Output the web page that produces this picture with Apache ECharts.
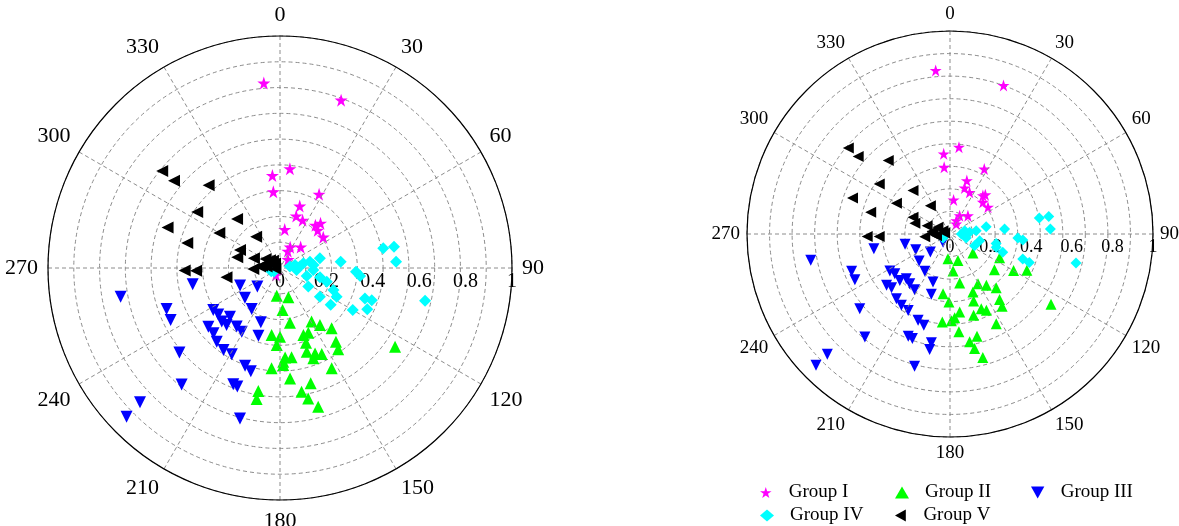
<!DOCTYPE html>
<html><head><meta charset="utf-8">
<script src="https://cdn.jsdelivr.net/npm/echarts@6/dist/echarts.min.js"></script>
<style>html,body{margin:0;padding:0;background:#fff}#c{width:1179px;height:526px}</style>
</head><body><div id="c"></div>
<script>
// ---- data: [radius, angle(deg)] ----
const leftGroupI = [[0.80,355],[0.77,20],[0.43,5.7],[0.40,355.3],[0.33,355],[0.36,27.9],[0.28,17.7],[0.235,17.3],[0.228,25.3],[0.239,39.7],[0.26,42.2],[0.23,45],[0.229,54.5],[0.167,7],[0.10,26],[0.127,44.5],[0.08,25],[0.05,44],[0.035,210]];
const leftGroupII = [[0.120,186.7],[0.181,176.5],[0.291,187.1],[0.296,180],[0.332,182.4],[0.434,184.8],[0.404,178],[0.538,190],[0.574,190.1],[0.131,164],[0.240,169.7],[0.268,149.5],[0.300,145],[0.342,139.4],[0.305,156.4],[0.306,160.7],[0.341,160.8],[0.399,142.8],[0.431,144.4],[0.379,162.3],[0.398,157.7],[0.412,154.1],[0.415,159.7],[0.386,176.7],[0.388,172.6],[0.418,178.1],[0.486,152.7],[0.478,174.8],[0.514,165.1],[0.541,170.1],[0.575,167.8],[0.620,164.6],[0.601,124.4]];
const leftGroupIII = [[0.698,259.8],[0.383,259.4],[0.520,250.1],[0.522,244.6],[0.340,237.8],[0.333,233.1],[0.301,225.8],[0.337,223.1],[0.314,216.5],[0.320,211],[0.399,230.7],[0.402,225.5],[0.419,220.6],[0.429,214.6],[0.426,209.2],[0.188,246.2],[0.126,230.8],[0.198,229.7],[0.215,214.6],[0.248,199.5],[0.306,197.7],[0.447,199.7],[0.462,195.8],[0.540,201.9],[0.543,199.8],[0.566,230],[0.657,220.2],[0.836,226.2],[0.921,225.9],[0.671,194.9],[0.341,227.4]];
const leftGroupIV = [[0.453,79.2],[0.500,79.4],[0.501,86.9],[0.263,84.1],[0.328,92.8],[0.347,95.7],[0.389,109.7],[0.419,109.3],[0.416,115.3],[0.362,120],[0.270,126],[0.641,102.7],[0.212,125.8],[0.066,78.7],[0.103,78.8],[0.132,78],[0.177,76.3],[0.144,93.6],[0.120,106.7],[0.177,103],[0.146,123.3],[0.210,106.4],[0.249,112.4],[0.274,117],[0.072,97],[0.086,86],[0.043,82],[0.145,85],[0.03,240],[0.04,250]];
const leftGroupV = [[0.658,309.5],[0.592,309.5],[0.471,319.2],[0.431,304.1],[0.281,318.8],[0.515,289.8],[0.302,300],[0.170,322.7],[0.414,285.1],[0.189,294.1],[0.190,284],[0.120,290.6],[0.073,302],[0.044,316],[0.078,277],[0.115,268],[0.411,268.5],[0.362,268.2],[0.234,260.2],[0.055,308],[0.029,312],[0.086,274],[0.058,276],[0.032,294],[0.02,260]];

const rightGroupI = [[0.809,355],[0.778,19.8],[0.430,5.9],[0.396,355.5],[0.330,355],[0.362,27.8],[0.276,17.5],[0.238,17.6],[0.227,25.2],[0.249,40.6],[0.26,42],[0.225,46],[0.229,54.8],[0.169,6],[0.102,27.8],[0.126,44.5],[0.073,25],[0.058,32]];
const rightGroupII = [[0.136,163.3],[0.122,184.7],[0.147,129.8],[0.271,115.6],[0.183,175.3],[0.246,168.8],[0.281,128.8],[0.361,119.8],[0.419,115.3],[0.606,124.8],[0.296,186.6],[0.335,180.9],[0.307,158.4],[0.281,150.6],[0.310,144.7],[0.349,139.3],[0.405,142.9],[0.439,144.2],[0.350,160.6],[0.399,157.3],[0.416,154.5],[0.387,172.9],[0.413,176.8],[0.428,179.1],[0.417,163.8],[0.435,185],[0.497,152.7],[0.484,174.8],[0.521,165.2],[0.540,169.7],[0.577,167.9],[0.629,165.1]];
const rightGroupIII = [[0.698,259.3],[0.382,259],[0.227,257.3],[0.186,245.2],[0.131,227.5],[0.202,228.8],[0.221,214.1],[0.251,199.5],[0.311,197.2],[0.518,249.3],[0.520,244.3],[0.348,238.3],[0.335,234.2],[0.308,224.3],[0.337,227.2],[0.315,219],[0.325,212.4],[0.402,231],[0.391,227.4],[0.414,219.6],[0.425,214.3],[0.429,208.7],[0.453,200.3],[0.468,196],[0.577,230.4],[0.658,219.6],[0.544,202.2],[0.547,199.8],[0.544,189.7],[0.578,190],[0.674,195],[0.846,225.6],[0.924,225.6],[0.053,220]];
const rightGroupIV = [[0.447,79.8],[0.494,80],[0.495,87.1],[0.270,84.7],[0.182,78.6],[0.335,93.4],[0.36,94.7],[0.275,109.1],[0.379,109],[0.415,109.7],[0.637,103],[0.074,77.5],[0.097,85],[0.130,83],[0.056,90],[0.082,104],[0.150,102.7],[0.232,101.5],[0.134,115.6],[0.237,106],[0.04,240]];
const rightGroupV = [[0.656,310.2],[0.592,310.2],[0.473,320],[0.427,305.3],[0.512,290.3],[0.405,285.3],[0.304,299.8],[0.281,319.6],[0.170,325.3],[0.200,294.3],[0.181,287],[0.120,290],[0.089,278],[0.068,299],[0.038,295],[0.125,264],[0.408,268.2],[0.349,267.9],[0.067,263],[0.027,280],[0.083,270]];

const angleTicks = [0,30,60,90,120,150,180,210,240,270,300,330];
const radiusTicks = [0,0.2,0.4,0.6,0.8,1];
const groupNames = ['Group I','Group II','Group III','Group IV','Group V'];
// ---------------------------------

const colors = ['#ff00ff','#00ff00','#0000ff','#00ffff','#000000'];
const STAR = 'path://M10,0L12.25,6.91L19.51,6.91L13.63,11.18L15.88,18.09L10,13.82L4.12,18.09L6.37,11.18L0.49,6.91L7.75,6.91Z';
const symbols = [STAR, 'triangle', 'path://M0,0L10,0L5,9Z', 'diamond', 'path://M9,0L9,10L0,5Z'];
const FONT = '"Liberation Serif","Times New Roman",serif';
const leftData = [leftGroupI, leftGroupII, leftGroupIII, leftGroupIV, leftGroupV];
const rightData = [rightGroupI, rightGroupII, rightGroupIII, rightGroupIV, rightGroupV];

const gridLine = {lineStyle:{color:'#8c8c8c', type:[4,3], width:1}};

function mainAngle(idx, fs, margin){
  return {polarIndex:idx, type:'value', min:0, max:360, interval:30, startAngle:90, clockwise:true, z:5,
    axisLine:{lineStyle:{color:'#000', width:1.2}}, axisTick:{show:false},
    axisLabel:{fontSize:fs, fontFamily:FONT, color:'#000', margin:margin,
      formatter: v => angleTicks.includes(v) ? String(v) : ''},
    splitLine:gridLine};
}
function mainRadius(idx){
  return {polarIndex:idx, type:'value', min:0, max:1, interval:1/9,
    axisLine:{show:false}, axisTick:{show:false}, axisLabel:{show:false}, splitLine:gridLine};
}
function labelAngle(idx){
  return {polarIndex:idx, type:'value', min:0, max:360, startAngle:0, show:false};
}
function labelRadius(idx, fs, margin){
  return {polarIndex:idx, type:'value', min:0, max:1, interval:0.2,
    axisLine:{show:false}, axisTick:{show:false}, splitLine:{show:false},
    axisLabel:{fontSize:fs, fontFamily:FONT, color:'#000', margin:margin,
      formatter: v => { const t = radiusTicks.find(x => Math.abs(x - v) < 1e-6); return t === undefined ? '' : String(t); }}};
}

const series = [];
leftData.forEach((d,i) => series.push({type:'scatter', coordinateSystem:'polar', polarIndex:0, name:groupNames[i], data:d,
  symbol:symbols[i], symbolSize: i===0 ? 13 : 12, itemStyle:{color:colors[i], opacity:1}, z:2+i}));
rightData.forEach((d,i) => series.push({type:'scatter', coordinateSystem:'polar', polarIndex:1, name:groupNames[i], data:d,
  symbol:symbols[i], symbolSize: i===0 ? 12 : 11, itemStyle:{color:colors[i], opacity:1}, z:2+i}));

function legendItem(name, left, top, size){
  return {left:left, top:top, data:[name], itemWidth:14, itemHeight:size, selectedMode:false,
    textStyle:{fontSize:19, fontFamily:FONT, color:'#000', padding:[0,0,0,11]}};
}

const option = {
  backgroundColor:'#fff',
  animation:false,
  polar:[{center:[280,268], radius:232},{center:[950,234], radius:203},{center:[280,268], radius:232},{center:[950,234], radius:203}],
  angleAxis:[mainAngle(0,22,10), mainAngle(1,19,7), labelAngle(2), labelAngle(3)],
  radiusAxis:[mainRadius(0), mainRadius(1), labelRadius(2,20,-24), labelRadius(3,18,-22)],
  legend:[
    legendItem(groupNames[0], 755, 478, 11),
    legendItem(groupNames[1], 890, 478, 12),
    legendItem(groupNames[2], 1026, 478, 12),
    legendItem(groupNames[3], 755, 501, 12),
    legendItem(groupNames[4], 890, 501, 12)
  ],
  series:series
};
const chart = echarts.init(document.getElementById('c'), null, {renderer:'canvas'});
chart.setOption(option);
</script></body></html>
